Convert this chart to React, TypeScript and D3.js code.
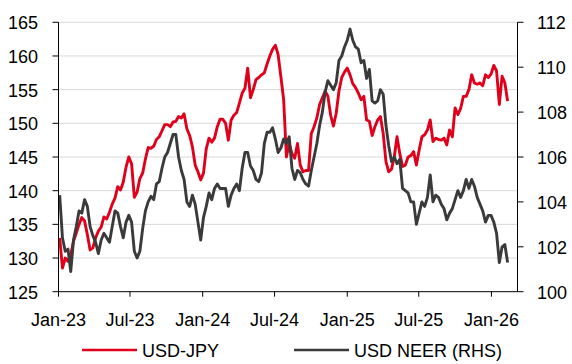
import React from "react";
import * as d3 from "d3";

// weekly observations, first one on 4 Jan 2023
const startDate = new Date(2023, 0, 4);

const usdJpy = [
  133.0, 128.5, 130.0, 129.5, 130.5, 132.5, 133.7, 135.0, 136.0, 135.5,
  133.5, 131.2, 131.5, 133.0, 134.0, 134.6, 136.1, 135.8, 136.8, 138.0,
  138.9, 140.6, 140.1, 141.3, 143.5, 145.0, 144.0, 139.0, 139.8, 141.8,
  142.6, 144.7, 146.4, 146.3, 146.6, 147.6, 148.0, 148.9, 149.8, 149.8,
  149.5, 150.2, 150.3, 151.0, 150.8, 151.4, 149.2, 148.2, 146.5, 143.8,
  142.8, 141.6, 142.6, 146.2, 147.8, 147.2, 147.8, 149.5, 150.6, 150.6,
  150.0, 147.5, 150.5, 151.2, 151.6, 153.0, 154.5, 155.2, 158.2, 153.8,
  155.0, 156.5, 156.8, 157.2, 157.5, 158.8, 160.0, 161.0, 161.6, 160.2,
  156.9, 153.5, 145.0, 147.0, 145.5, 144.8, 147.0, 143.8, 142.8, 143.0,
  143.0, 148.5, 149.5, 150.8, 152.8, 153.8, 154.8, 154.0, 151.2, 149.6,
  151.5, 154.8, 156.8, 157.6, 158.2, 157.2, 155.9, 155.3, 154.5, 153.5,
  154.0, 150.5, 150.3, 148.2, 149.5, 150.5, 151.0, 148.5, 144.3, 142.8,
  143.2, 145.0, 148.0, 145.5, 143.6, 143.8, 145.0, 145.2, 145.8, 143.8,
  146.0, 148.0, 148.3, 149.0, 150.5, 147.3, 147.8, 147.6, 147.5, 147.8,
  146.8, 149.0, 148.0, 152.3, 151.3, 152.2, 154.0, 154.0, 155.0, 157.2,
  156.0, 155.8, 156.0, 155.6, 157.2, 156.8, 157.3, 158.6, 157.8, 152.8,
  157.0, 156.0, 153.3,
];

const usdNeer = [
  104.3, 102.4, 101.8, 101.9, 100.9, 102.3, 102.9, 103.6, 103.5, 104.1,
  103.8, 102.9, 102.5, 102.2, 101.7, 102.3, 102.6, 102.4, 102.2, 102.9,
  103.6, 103.5, 102.9, 102.4, 103.1, 103.4, 103.1, 101.8, 101.5, 101.8,
  102.8, 103.6, 104.0, 104.25, 104.1, 104.8, 104.9, 105.5, 106.0, 106.2,
  106.6, 107.0, 107.0, 106.0, 105.4, 105.0, 104.0, 103.8, 104.3, 103.9,
  103.1, 102.3, 103.3, 103.8, 104.4, 104.1, 104.6, 104.8, 104.6, 104.6,
  104.6, 103.8, 104.3, 104.6, 104.8, 104.5, 105.5, 106.2, 106.2, 105.6,
  105.4, 105.0, 104.9, 105.3, 106.6, 107.1, 107.1, 107.3, 106.8, 106.2,
  106.4, 106.8, 106.6, 106.9, 105.5, 105.0, 105.4, 105.3, 105.0, 104.8,
  104.7, 105.4, 106.0, 106.6, 107.4, 108.0, 108.9, 109.4, 109.2, 109.0,
  109.3, 110.3, 110.5, 110.9, 111.2, 111.7, 111.2, 110.9, 110.8, 110.2,
  110.3, 109.5, 109.9, 108.5, 108.4, 108.5, 109.0, 108.8, 107.4, 106.5,
  105.8, 106.0, 105.7, 105.9, 104.6, 104.5, 104.4, 104.0, 104.0, 103.0,
  103.5, 104.0, 103.8, 104.2, 105.2, 104.0, 104.3, 104.2, 103.9, 103.7,
  103.2, 103.5, 103.7, 104.1, 104.5, 104.2, 104.5, 105.0, 104.6, 105.0,
  104.7, 104.2, 103.9, 103.6, 103.1, 103.4, 103.4, 103.1, 102.6, 101.3,
  102.0, 102.1, 101.3,
];

const leftTicks = [125, 130, 135, 140, 145, 150, 155, 160, 165];
const rightTicks = [100, 102, 104, 106, 108, 110, 112];
const xTicks = ["2023-01-01", "2023-07-01", "2024-01-01", "2024-07-01", "2025-01-01", "2025-07-01", "2026-01-01"];

const RED = "#e0001b";
const GREY = "#3a3a3a";
const FONT = "'Liberation Sans', Arial, sans-serif";

const App = () => {
  const W = 572, H = 364;
  const left = 58.5, right = 517.5, top = 22.3, bottom = 291.7;

  const x = d3.scaleTime()
    .domain([new Date(2023, 0, 1), new Date(2026, 2, 8)])
    .range([left, right]);
  const yL = d3.scaleLinear().domain([125, 165]).range([bottom, top]);
  const yR = d3.scaleLinear().domain([100, 112]).range([bottom, top]);

  const dates = usdJpy.map((_, i) => d3.timeDay.offset(startDate, i * 7));
  const parse = d3.timeParse("%Y-%m-%d");
  const fmt = d3.timeFormat("%b-%y");

  const lineL = d3.line<number>().x((d, i) => x(dates[i])).y(d => yL(d));
  const lineR = d3.line<number>().x((d, i) => x(dates[i])).y(d => yR(d));

  return (
    <svg width={W} height={H} style={{ position: "absolute", left: 0, top: 0 }} fontFamily={FONT}>
      {/* gridlines */}
      {leftTicks.slice(1).map(t => (
        <line key={"g" + t} x1={left} x2={right} y1={yL(t)} y2={yL(t)} stroke="#d9d9d9" strokeWidth={1} />
      ))}

      <path d={lineL(usdJpy) || ""} fill="none" stroke={RED} strokeWidth={2.9} strokeLinejoin="round" />
      <path d={lineR(usdNeer) || ""} fill="none" stroke={GREY} strokeWidth={2.9} strokeLinejoin="round" />

      {/* axes */}
      <line x1={left} x2={left} y1={top} y2={bottom} stroke="#000" />
      <line x1={right} x2={right} y1={top} y2={bottom} stroke="#000" />
      <line x1={left} x2={right} y1={bottom} y2={bottom} stroke="#000" />

      {leftTicks.map(t => (
        <g key={"l" + t}>
          <line x1={left - 6} x2={left} y1={yL(t)} y2={yL(t)} stroke="#000" />
          <text x={38} y={yL(t) + 7} textAnchor="end" fontSize={18} fill="#000">{t}</text>
        </g>
      ))}
      {rightTicks.map(t => (
        <g key={"r" + t}>
          <line x1={right} x2={right + 6} y1={yR(t)} y2={yR(t)} stroke="#000" />
          <text x={537} y={yR(t) + 7} textAnchor="start" fontSize={18} fill="#000">{t}</text>
        </g>
      ))}
      {xTicks.map(s => {
        const d = parse(s)!;
        return (
          <g key={s}>
            <line x1={x(d)} x2={x(d)} y1={bottom} y2={bottom + 5} stroke="#000" />
            <text x={x(d)} y={325.5} textAnchor="middle" fontSize={18} fill="#000">{fmt(d)}</text>
          </g>
        );
      })}

      {/* legend */}
      <line x1={82} x2={137} y1={350} y2={350} stroke={RED} strokeWidth={2.5} />
      <text x={142} y={356.5} fontSize={18} fill="#000">USD-JPY</text>
      <line x1={294} x2={349} y1={350} y2={350} stroke={GREY} strokeWidth={2.5} />
      <text x={354} y={356.5} fontSize={18} fill="#000">USD NEER (RHS)</text>
    </svg>
  );
};

export default App;
